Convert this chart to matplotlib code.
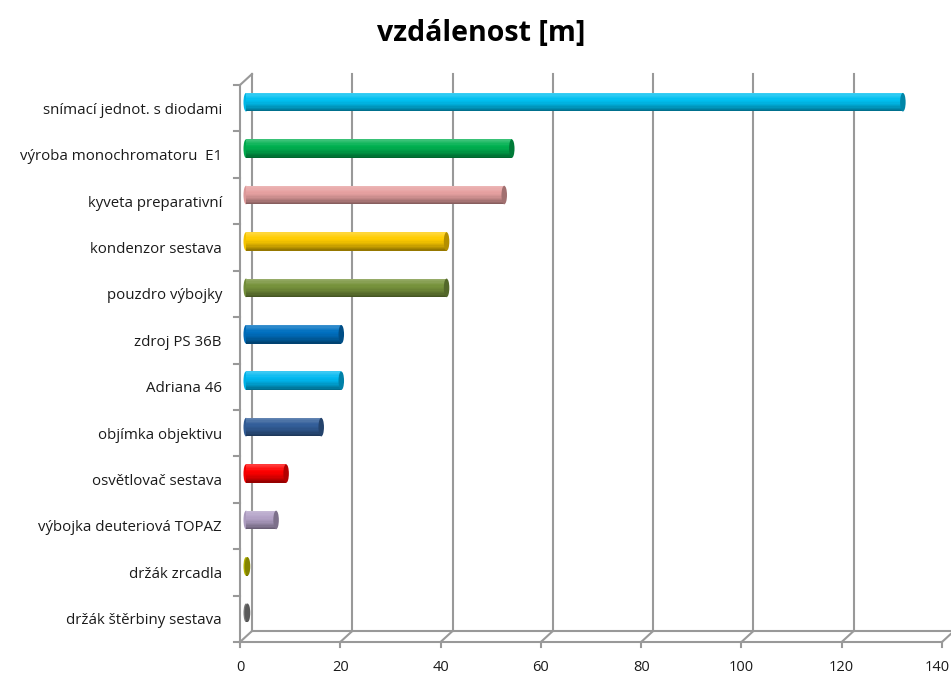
import numpy as np
import matplotlib
matplotlib.use("Agg")
import matplotlib.pyplot as plt
import matplotlib.colors as mcolors
from matplotlib.patches import Ellipse
from matplotlib.transforms import ScaledTranslation

# data (shora dolu)
kategorie = ["snímací jednot. s diodami", "výroba monochromatoru  E1", "kyveta preparativní",
             "kondenzor sestava", "pouzdro výbojky", "zdroj PS 36B", "Adriana 46",
             "objímka objektivu", "osvětlovač sestava", "výbojka deuteriová TOPAZ",
             "držák zrcadla", "držák štěrbiny sestava"]
vzdalenost = [131, 53, 51.5, 40, 40, 19, 19, 15, 8, 6, 0.3, 0.3]
barvy = ["#00BFF0", "#00B050", "#E6A0A0", "#FFCC00", "#77933C", "#0070C0", "#00B8F0",
         "#335F9A", "#FF0000", "#B3A2C7", "#BDBD00", "#808080"]
xticks = [0, 20, 40, 60, 80, 100, 120, 140]

plt.rcParams['font.family'] = ['Open Sans', 'DejaVu Sans']

fig = plt.figure(figsize=(9.51, 6.8), dpi=100)
ax = fig.add_axes([240 / 951, 1 - 642 / 680, 702 / 951, (642 - 85) / 680])
n = len(kategorie)
ypos = np.arange(n)
ax.set_xlim(0, 140)
ax.set_ylim(n - 0.5, -0.5)
for s in ax.spines.values():
    s.set_visible(False)

# hloubka 3D efektu (px -> data)
px = 100.0
dx = 12 / (702 / 140)
dy = 11 / ((642 - 85) / n)
bot, top = n - 0.5, -0.5
gc = "#999999"

# zadni stena - mrizka
for x in xticks[1:]:
    ax.plot([x + dx, x + dx], [bot - dy, top - dy], color=gc, lw=1.5, clip_on=False, zorder=1)
# podlaha
ax.plot([0, 140], [bot, bot], color=gc, lw=1.5, clip_on=False)
ax.plot([dx, 140 + dx], [bot - dy, bot - dy], color=gc, lw=1.5, clip_on=False)
for x in xticks:
    ax.plot([x, x + dx], [bot, bot - dy], color=gc, lw=1.5, clip_on=False)
    ax.plot([x, x], [bot, bot + 0.1], color=gc, lw=1.5, clip_on=False)
# leva stena
ax.plot([0, 0], [bot, top], color=gc, lw=1.5, clip_on=False)
ax.plot([dx, dx], [bot - dy, top - dy], color=gc, lw=1.5, clip_on=False)
ax.plot([0, dx], [top, top - dy], color=gc, lw=1.5, clip_on=False)
for y in np.arange(n + 1) - 0.5:
    ax.plot([-1.2, 0], [y, y], color=gc, lw=1.5, clip_on=False)

# valce
h = 0.4
off = ScaledTranslation(6 / px, 6 / px, fig.dpi_scale_trans)
tr = ax.transData + off
nstrip = 14
edges = np.linspace(-h / 2, h / 2, nstrip + 1)
for i in range(n):
    c = np.array(mcolors.to_rgb(barvy[i]))
    v = vzdalenost[i]
    for k in range(nstrip):
        t = (edges[k] + edges[k + 1]) / 2 / (h / 2)  # -1 nahore, 1 dole
        if t < -0.3:
            col = c + (1 - c) * 0.25 * (1 - (t + 1) / 0.7)
        else:
            col = c * (1 - 0.45 * ((t + 0.3) / 1.3) ** 1.5)
        ax.barh(ypos[i] + (edges[k] + edges[k + 1]) / 2, v, height=edges[k + 1] - edges[k],
                color=np.clip(col, 0, 1), lw=0, transform=tr, zorder=3)
    ax.add_patch(Ellipse((0, ypos[i]), 1.0, h, color=c * 0.95, lw=0, transform=tr, zorder=2))
    ax.add_patch(Ellipse((v, ypos[i]), 1.1, h, color=c * 0.7, lw=0, transform=tr, zorder=4))

ax.set_yticks(ypos)
ax.set_yticklabels(kategorie, fontsize=10.8, color="#1a1a1a")
ax.tick_params(axis="y", length=0, pad=13)
ax.set_xticks(xticks)
ax.set_xticklabels([str(x) for x in xticks], fontsize=10.5, color="#1a1a1a")
ax.tick_params(axis="x", length=0, pad=13)
posledni = ax.get_xticklabels()[-1]
posledni.set_transform(posledni.get_transform() + ScaledTranslation(-5 / px, 0, fig.dpi_scale_trans))

fig.text(481 / 951, 1 - 33 / 680, "vzdálenost [m]", ha="center", va="center",
         fontsize=20.5, fontweight="bold", color="black")

fig.savefig("out.png", dpi=100)
